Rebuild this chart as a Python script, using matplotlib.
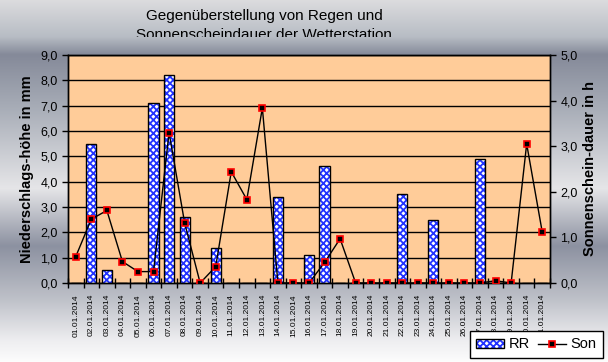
import numpy as np
import matplotlib
matplotlib.use('Agg')
import matplotlib.pyplot as plt
from matplotlib.transforms import Bbox, TransformedBbox
from matplotlib.ticker import FixedLocator, FuncFormatter
from matplotlib.patches import Patch
from matplotlib.lines import Line2D
from matplotlib.legend_handler import HandlerTuple

# data
days = [f'{d:02d}.01.2014' for d in range(1, 32)]
rr = [0, 5.5, 0.5, 0, 0, 7.1, 8.2, 2.6, 0, 1.4, 0, 0, 0, 3.4, 0, 1.1,
      4.6, 0, 0, 0, 0, 3.5, 0, 2.5, 0, 0, 4.9, 0, 0, 0, 0]
son = [0.58, 1.40, 1.59, 0.47, 0.25, 0.25, 3.30, 1.32, 0.0, 0.36, 2.44,
       1.83, 3.84, 0, 0, 0, 0.45, 0.97, 0, 0, 0, 0, 0, 0, 0, 0, 0,
       0.05, 0, 3.05, 1.12]
left_ticks = [0, 1, 2, 3, 4, 5, 6, 7, 8, 9]
right_ticks = [0, 1, 2, 3, 4, 5]

title = 'Gegenüberstellung von Regen und\nSonnenscheindauer der Wetterstation'
plt.rcParams['font.family'] = ['Liberation Sans', 'DejaVu Sans']
plt.rcParams['hatch.linewidth'] = 1.3

def comma_fmt(v, p):
    return f'{v:.1f}'.replace('.', ',')

fig = plt.figure(figsize=(6.08, 3.62), dpi=100)

# metallic background gradient
stops_y = [0.0, 0.10, 0.15, 0.30, 0.52, 0.68, 0.83, 0.94, 1.0]
stops_c = np.array([
    (0.86, 0.86, 0.87), (0.72, 0.74, 0.77), (0.52, 0.54, 0.60),
    (0.66, 0.68, 0.72), (0.90, 0.90, 0.91), (0.55, 0.57, 0.63),
    (0.75, 0.76, 0.79), (0.93, 0.93, 0.94), (0.99, 0.99, 0.99)])
ys = np.linspace(0, 1, 362)
grad = np.stack([np.interp(ys, stops_y, stops_c[:, i]) for i in range(3)], axis=1)
bg = fig.add_axes([0, 0, 1, 1], zorder=-10)
bg.imshow(grad[:, None, :], aspect='auto', extent=[0, 1, 1, 0])
bg.axis('off')

ax = fig.add_axes([68 / 608, 1 - 283 / 362, 482 / 608, 228 / 362])
ax.set_facecolor('#FFCC99')
x = np.arange(len(days))

ax.bar(x, rr, width=0.65, color='white', edgecolor='#2233ff', hatch='xxxxx',
       lw=0, zorder=3)
ax.bar(x, rr, width=0.65, fill=False, edgecolor='black', lw=1, zorder=4)
ax.set_ylim(0, 9)
ax.set_xlim(-0.5, len(days) - 0.5)
ax.yaxis.set_major_locator(FixedLocator(left_ticks))
ax.yaxis.set_major_formatter(FuncFormatter(comma_fmt))
ax.grid(axis='y', color='black', lw=1, zorder=1)
ax.set_axisbelow(True)
ax.xaxis.set_major_locator(FixedLocator(np.arange(-0.5, len(days), 1)))
ax.xaxis.set_major_formatter(FuncFormatter(lambda v, p: ''))
ax.set_xticks(x, days, minor=True)
ax.tick_params(axis='x', which='major', direction='inout', length=7, width=1)
ax.tick_params(axis='x', which='minor', length=0, rotation=90, pad=8,
               labelsize=6)
ax.tick_params(axis='y', direction='out', length=4, width=1, labelsize=9)
ax.set_ylabel('Niederschlags-höhe in mm', fontsize=10.5, fontweight='bold')
ax.yaxis.set_label_coords(-0.070, 0.5)

ax2 = ax.twinx()
ax2.plot(x, son, color='black', lw=1, marker='s', ms=5, mfc='black',
         mec='red', mew=1.2, zorder=5)
ax2.set_ylim(0, 5)
ax2.yaxis.set_major_locator(FixedLocator(right_ticks))
ax2.yaxis.set_major_formatter(FuncFormatter(comma_fmt))
ax2.tick_params(axis='y', direction='out', length=4, width=1, labelsize=9)
ax2.set_ylabel('Sonnenschein-dauer in h', fontsize=10.5, fontweight='bold')
ax2.yaxis.set_label_coords(1.068, 0.5)
for a in (ax, ax2):
    for s in a.spines.values():
        s.set_color('black')
        s.set_linewidth(1)

# title, second line clipped like in the reference
t = fig.text(264 / 608, 1 - 9 / 362, title, ha='center', va='top',
             fontsize=11, linespacing=1.45)
t.set_clip_box(TransformedBbox(Bbox([[0, 1 - 37 / 362], [1, 1]]), fig.transFigure))
t.set_clip_on(True)

rr_handle = (Patch(facecolor='white', edgecolor='#2233ff', hatch='xxxxx', lw=0),
             Patch(fill=False, edgecolor='black', lw=1))
son_handle = Line2D([], [], color='black', lw=1, marker='s', ms=5, mfc='black',
                    mec='red', mew=1.2)
leg = fig.legend([rr_handle, son_handle], ['RR', 'Son'], loc='lower right',
                 ncol=2, bbox_to_anchor=(603 / 608, 4 / 362), fontsize=10.5,
                 fancybox=False, framealpha=1, edgecolor='black',
                 handlelength=1.9, handleheight=0.6, handletextpad=0.3,
                 columnspacing=0.6, borderpad=0.45, borderaxespad=0,
                 handler_map={tuple: HandlerTuple(ndivide=1, pad=0)})
leg.get_frame().set_linewidth(1)

fig.savefig('out.png', dpi=100)
